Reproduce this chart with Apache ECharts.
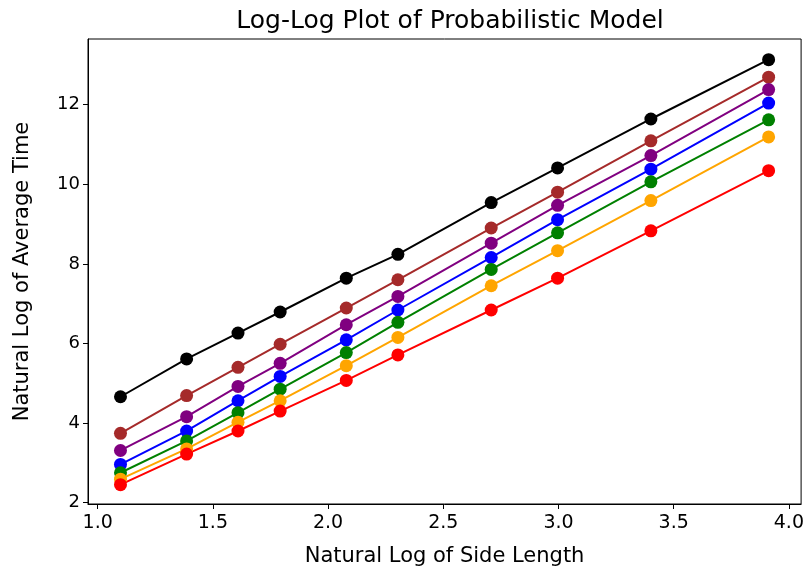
<!DOCTYPE html>
<html>
<head>
<meta charset="utf-8">
<script src="https://cdn.jsdelivr.net/npm/echarts@6/dist/echarts.min.js"></script>
<style>
    html, body { margin: 0; padding: 0; background: #fff; }
</style>
</head>
<body>
<div id="main" style="width: 807px;height:573px;"></div>
<script type="text/javascript">
    // natural log of the side lengths (x positions)
    var logSide = [1.099, 1.386, 1.609, 1.792, 2.079, 2.303, 2.708, 2.996, 3.401, 3.912];

    // natural log of average time, one array per line, top to bottom
    var blackVals  = [4.66, 5.61, 6.26, 6.79, 7.64, 8.24, 9.54, 10.41, 11.64, 13.13];
    var brownVals  = [3.74, 4.69, 5.40, 5.98, 6.89, 7.60, 8.90, 9.80, 11.09, 12.69];
    var purpleVals = [3.31, 4.16, 4.92, 5.50, 6.47, 7.18, 8.52, 9.47, 10.72, 12.38];
    var blueVals   = [2.96, 3.80, 4.56, 5.17, 6.09, 6.84, 8.16, 9.11, 10.38, 12.04];
    var greenVals  = [2.75, 3.55, 4.26, 4.85, 5.77, 6.53, 7.86, 8.78, 10.06, 11.62];
    var orangeVals = [2.59, 3.35, 4.02, 4.56, 5.44, 6.15, 7.45, 8.33, 9.59, 11.19];
    var redVals    = [2.45, 3.22, 3.80, 4.30, 5.07, 5.71, 6.84, 7.64, 8.83, 10.34];

    var xTicks = [1.0, 1.5, 2.0, 2.5, 3.0, 3.5, 4.0];
    var yTicks = [2, 4, 6, 8, 10, 12];

    var lines = [
        {name: 'black', color: '#000000', vals: blackVals},
        {name: 'brown', color: '#a52a2a', vals: brownVals},
        {name: 'purple', color: '#800080', vals: purpleVals},
        {name: 'blue', color: '#0000ff', vals: blueVals},
        {name: 'green', color: '#008000', vals: greenVals},
        {name: 'orange', color: '#ffa500', vals: orangeVals},
        {name: 'red', color: '#ff0000', vals: redVals}
    ];

    var myChart = echarts.init(document.getElementById('main'));
    var font = 'DejaVu Sans';

    var series = lines.map(function (l) {
        return {
            name: l.name,
            type: 'line',
            data: logSide.map(function (x, i) { return [x, l.vals[i]]; }),
            symbol: 'circle',
            symbolSize: 13,
            showSymbol: true,
            itemStyle: {color: l.color},
            lineStyle: {color: l.color, width: 2},
            emphasis: {disabled: true},
            animation: false
        };
    });

    var option = {
        animation: false,
        title: {
            text: 'Log-Log Plot of Probabilistic Model',
            left: 445,
            textAlign: 'center',
            top: 4,
            textStyle: {fontFamily: font, fontSize: 25, fontWeight: 'normal', color: '#000'}
        },
        grid: {
            left: 88, right: 5, top: 39, bottom: 69,
            show: true, borderColor: '#000', borderWidth: 1
        },
        xAxis: {
            type: 'value',
            min: 0.958, max: 4.053,
            name: 'Natural Log of Side Length',
            nameLocation: 'middle',
            nameGap: 42,
            nameTextStyle: {fontFamily: font, fontSize: 21, color: '#000'},
            splitLine: {show: false},
            axisLine: {show: true, onZero: false, lineStyle: {color: '#000'}},
            axisTick: {show: true, length: 5, customValues: xTicks, lineStyle: {color: '#000'}},
            axisLabel: {
                customValues: xTicks, margin: 10,
                fontFamily: font, fontSize: 19, color: '#000',
                formatter: function (v) { return v.toFixed(1); }
            }
        },
        yAxis: {
            type: 'value',
            min: 1.965, max: 13.65,
            name: 'Natural Log of Average Time',
            nameLocation: 'middle',
            nameGap: 55,
            nameTextStyle: {fontFamily: font, fontSize: 21, color: '#000'},
            splitLine: {show: false},
            axisLine: {show: true, onZero: false, lineStyle: {color: '#000'}},
            axisTick: {show: true, length: 5, customValues: yTicks, lineStyle: {color: '#000'}},
            axisLabel: {
                customValues: yTicks, margin: 8,
                fontFamily: font, fontSize: 18, color: '#000'
            }
        },
        series: series
    };

    myChart.setOption(option);
</script>
</body>
</html>
